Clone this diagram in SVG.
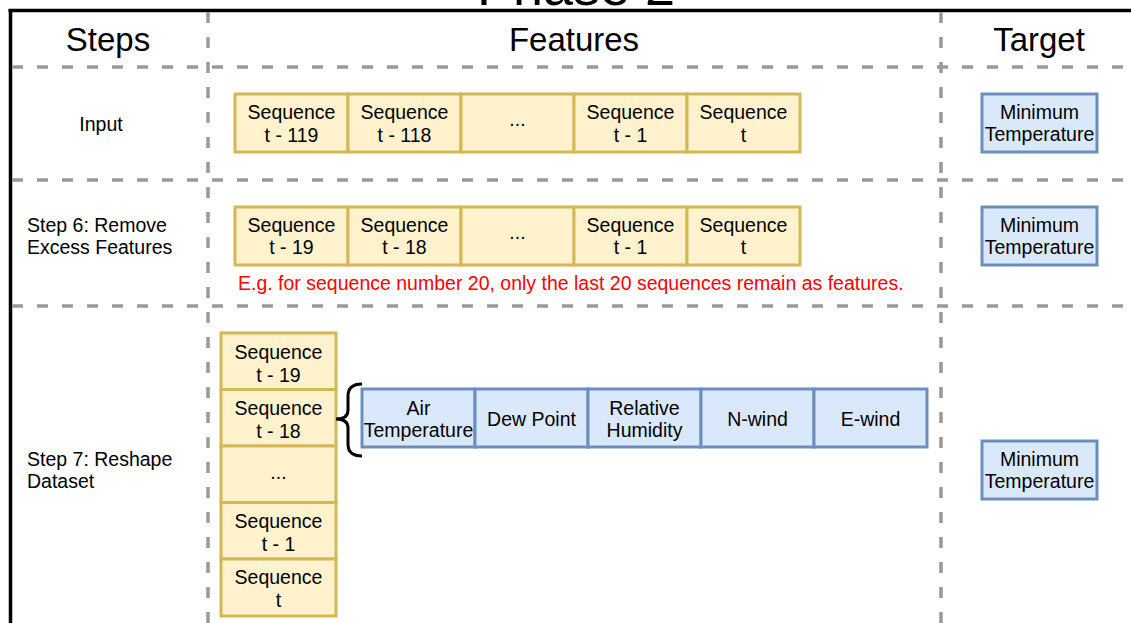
<svg xmlns="http://www.w3.org/2000/svg" width="1131" height="623" viewBox="0 0 1131 623">
<style>
text{font-family:"Liberation Sans",Arial,Helvetica,sans-serif;fill:#000}
.t{font-size:19.5px;text-anchor:middle}
.l{font-size:19.5px}
.h{font-size:33px;text-anchor:middle}
.seq{fill:#fff2cc;stroke:#d6b656;stroke-width:3}
.blue{fill:#dae8fc;stroke:#6c8ebf;stroke-width:3}
.dash{stroke:#999999;stroke-width:3.5;stroke-dasharray:11 14;fill:none}
.red{font-size:19.5px;fill:#ff0000}
</style>
<rect width="1131" height="623" fill="#ffffff"/>
<g id="frame">
<text x="576" y="5" style="font-size:54px;text-anchor:middle">Phase 2</text>
<line x1="8.5" y1="10.5" x2="1131" y2="10.5" stroke="#000" stroke-width="3.5"/>
<line x1="10.5" y1="9" x2="10.5" y2="623" stroke="#000" stroke-width="3.5"/>
<line class="dash" x1="208" y1="12" x2="208" y2="623"/>
<line class="dash" x1="941" y1="12" x2="941" y2="623"/>
<line class="dash" x1="12" y1="67" x2="1131" y2="67"/>
<line class="dash" x1="12" y1="180" x2="1131" y2="180"/>
<line class="dash" x1="12" y1="306" x2="1131" y2="306"/>
<text class="h" x="108" y="51">Steps</text>
<text class="h" x="574" y="51">Features</text>
<text class="h" x="1039" y="51">Target</text>
</g>
<g id="steps">
<text class="t" x="101" y="131">Input</text>
<text class="l" x="27" y="232">Step 6: Remove</text>
<text class="l" x="27" y="254">Excess Features</text>
<text class="l" x="27" y="466">Step 7: Reshape</text>
<text class="l" x="27" y="488">Dataset</text>
</g>
<g id="input-row">
<rect class="seq" x="235" y="94" width="113" height="58"/>
<rect class="seq" x="348" y="94" width="113" height="58"/>
<rect class="seq" x="461" y="94" width="113" height="58"/>
<rect class="seq" x="574" y="94" width="113" height="58"/>
<rect class="seq" x="687" y="94" width="113" height="58"/>
<text class="t" x="291.5" y="119">Sequence</text><text class="t" x="291.5" y="142">t - 119</text>
<text class="t" x="404.5" y="119">Sequence</text><text class="t" x="404.5" y="142">t - 118</text>
<text class="t" x="517.5" y="126">...</text>
<text class="t" x="630.5" y="119">Sequence</text><text class="t" x="630.5" y="142">t - 1</text>
<text class="t" x="743.5" y="119">Sequence</text><text class="t" x="743.5" y="142">t</text>
</g>
<g id="step6-row">
<rect class="seq" x="235" y="207" width="113" height="58"/>
<rect class="seq" x="348" y="207" width="113" height="58"/>
<rect class="seq" x="461" y="207" width="113" height="58"/>
<rect class="seq" x="574" y="207" width="113" height="58"/>
<rect class="seq" x="687" y="207" width="113" height="58"/>
<text class="t" x="291.5" y="232">Sequence</text><text class="t" x="291.5" y="254">t - 19</text>
<text class="t" x="404.5" y="232">Sequence</text><text class="t" x="404.5" y="254">t - 18</text>
<text class="t" x="517.5" y="239">...</text>
<text class="t" x="630.5" y="232">Sequence</text><text class="t" x="630.5" y="254">t - 1</text>
<text class="t" x="743.5" y="232">Sequence</text><text class="t" x="743.5" y="254">t</text>
<text class="red" x="238" y="290">E.g. for sequence number 20, only the last 20 sequences remain as features.</text>
</g>
<g id="step7-stack">
<rect class="seq" x="221" y="333" width="115" height="56.5"/>
<rect class="seq" x="221" y="389.5" width="115" height="56.5"/>
<rect class="seq" x="221" y="446" width="115" height="56.5"/>
<rect class="seq" x="221" y="502.5" width="115" height="56.5"/>
<rect class="seq" x="221" y="559" width="115" height="57"/>
<text class="t" x="278.5" y="359">Sequence</text><text class="t" x="278.5" y="382">t - 19</text>
<text class="t" x="278.5" y="415">Sequence</text><text class="t" x="278.5" y="438">t - 18</text>
<text class="t" x="278.5" y="479">...</text>
<text class="t" x="278.5" y="528">Sequence</text><text class="t" x="278.5" y="551">t - 1</text>
<text class="t" x="278.5" y="584">Sequence</text><text class="t" x="278.5" y="607">t</text>
</g>
<g id="connectors">
<path d="M 362 384 Q 348 384 348 396 L 348 410 Q 348 419 336 419 Q 348 419 348 428 L 348 444 Q 348 456 362 456" fill="none" stroke="#000" stroke-width="3"/>
</g>
<g id="features-row">
<rect class="blue" x="362" y="389" width="113" height="58"/>
<rect class="blue" x="475" y="389" width="113" height="58"/>
<rect class="blue" x="588" y="389" width="113" height="58"/>
<rect class="blue" x="701" y="389" width="113" height="58"/>
<rect class="blue" x="814" y="389" width="113" height="58"/>
<text class="t" x="418.5" y="415">Air</text><text class="t" x="418.5" y="437">Temperature</text>
<text class="t" x="531.5" y="426">Dew Point</text>
<text class="t" x="644.5" y="415">Relative</text><text class="t" x="644.5" y="437">Humidity</text>
<text class="t" x="757.5" y="426">N-wind</text>
<text class="t" x="870.5" y="426">E-wind</text>
</g>
<g id="target1">
<rect class="blue" x="982" y="94" width="115" height="58"/>
<text class="t" x="1039.5" y="119">Minimum</text><text class="t" x="1039.5" y="141">Temperature</text>
</g>
<g id="target2">
<rect class="blue" x="982" y="207" width="115" height="58"/>
<text class="t" x="1039.5" y="232">Minimum</text><text class="t" x="1039.5" y="254">Temperature</text>
</g>
<g id="target3">
<rect class="blue" x="982" y="441" width="115" height="58"/>
<text class="t" x="1039.5" y="466">Minimum</text><text class="t" x="1039.5" y="488">Temperature</text>
</g>
</svg>
